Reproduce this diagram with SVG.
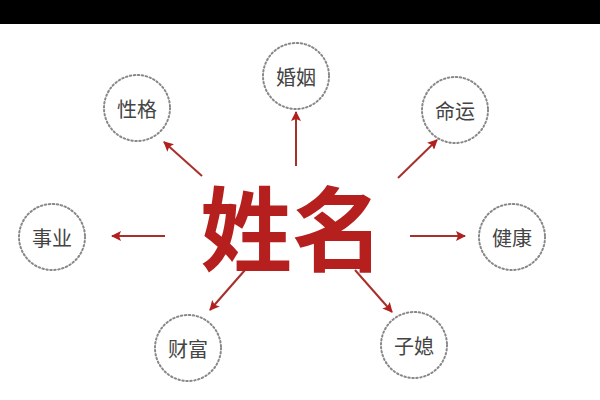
<svg xmlns="http://www.w3.org/2000/svg" width="600" height="400" viewBox="0 0 600 400">
<style>
.n circle{fill:#fff;stroke:#888;stroke-width:2;stroke-dasharray:1.5 2.5;stroke-linecap:round}
.n text{font-family:"Noto Sans CJK SC",sans-serif;font-size:20px;fill:#444;text-anchor:middle;dominant-baseline:central}
#c line{stroke:#a8302c;stroke-width:2;marker-end:url(#a)}
</style>
<defs><marker id="a" viewBox="0 0 10 10" refX="9" refY="5" markerWidth="5" markerHeight="5" orient="auto"><path d="M0,0L10,5L0,10L2,5z" fill="#b0201c"/></marker></defs>
<rect width="600" height="400" fill="#fff"/>
<rect width="600" height="24" fill="#000"/>
<g id="c">
<line x1="296" y1="166" x2="296" y2="112"/>
<line x1="202" y1="176" x2="164" y2="142"/>
<line x1="398" y1="178" x2="437" y2="140"/>
<line x1="165" y1="236" x2="112" y2="236"/>
<line x1="410" y1="236" x2="465" y2="236"/>
<line x1="245" y1="270" x2="210" y2="310"/>
<line x1="355" y1="270" x2="392" y2="312"/>
</g>
<g id="center"><text x="292" y="223" font-family="'Noto Sans CJK SC',sans-serif" font-size="92" font-weight="bold" fill="#b5201e" text-anchor="middle" dominant-baseline="central">姓名</text></g>
<g id="hunyin" class="n"><circle cx="296" cy="76" r="33"/><text x="296" y="76">婚姻</text></g>
<g id="xingge" class="n"><circle cx="137" cy="108" r="33"/><text x="137" y="108">性格</text></g>
<g id="mingyun" class="n"><circle cx="455" cy="110" r="33"/><text x="455" y="110">命运</text></g>
<g id="shiye" class="n"><circle cx="52" cy="237" r="33"/><text x="52" y="237">事业</text></g>
<g id="jiankang" class="n"><circle cx="512" cy="237" r="33"/><text x="512" y="237">健康</text></g>
<g id="caifu" class="n"><circle cx="188" cy="348" r="33"/><text x="188" y="348">财富</text></g>
<g id="zixi" class="n"><circle cx="414" cy="345" r="33"/><text x="414" y="345">子媳</text></g>
</svg>
